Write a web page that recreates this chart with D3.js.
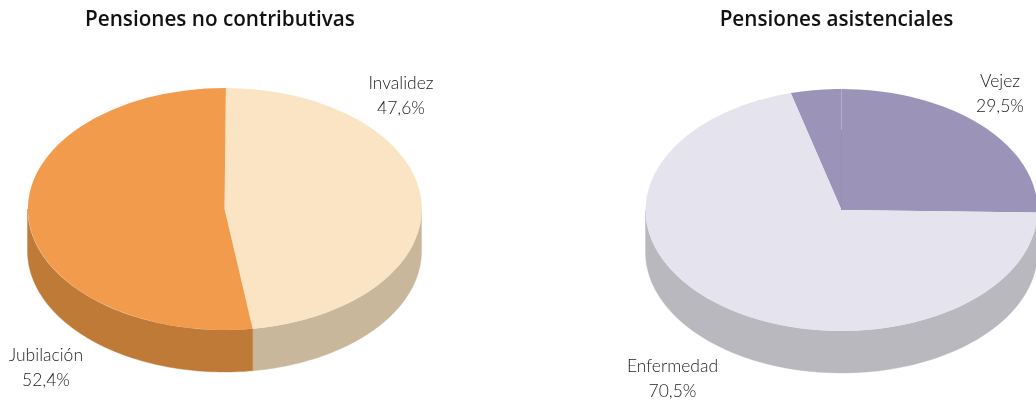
<!DOCTYPE html>
<html><head><meta charset="utf-8">
<script src="https://cdn.jsdelivr.net/npm/d3@7"></script>
<style>html,body{margin:0;padding:0;background:#fff;overflow:hidden}svg{display:block;will-change:transform}</style>
</head><body><div id="chart"></div>
<script>
const titles = ["Pensiones no contributivas", "Pensiones asistenciales"];
const leftCategories = ["Invalidez", "Jubilación"];
const leftValues = [47.6, 52.4];
const leftTops = ["#FBE4C3", "#F29B4C"];
const leftWalls = ["#C9B79B", "#C07A38"];
const rightCategories = ["Vejez", "Enfermedad"];
const rightValues = [29.5, 70.5];
const rightTops = ["#9C94B8", "#E5E4EE"];
const rightWalls = ["#9C94B8", "#B9B8BF"];

const W = 1036, H = 405;
const svg = d3.select("#chart").append("svg").attr("width", W).attr("height", H);
const TAU = Math.PI * 2;

const layouts = [
  {title: titles[0], cats: leftCategories, vals: leftValues, tops: leftTops, walls: leftWalls,
   cx: 224.5, cy: 209, rx: 197, ry: 121, depth: 42, start: 0.4 * Math.PI / 180, tx: 220,
   labels: [{x: 401, y: 89}, {x: 46, y: 361}]},
  {title: titles[1], cats: rightCategories, vals: rightValues, tops: rightTops, walls: rightWalls,
   cx: 841.5, cy: 210, rx: 196, ry: 121, depth: 42, start: -15 * Math.PI / 180, tx: 836.5,
   labels: [{x: 1000, y: 87}, {x: 672.5, y: 372}], seam: true}
];

layouts.forEach(L => {
  const pie = d3.pie().value(d => d).sort(null).startAngle(L.start).endAngle(L.start + TAU);
  const arcs = pie(L.vals);
  const sx = d3.scaleLinear().domain([-1, 1]).range([L.cx - L.rx, L.cx + L.rx]);
  const sy = d3.scaleLinear().domain([-1, 1]).range([L.cy - L.ry, L.cy + L.ry]);
  const g = svg.append("g");

  // side wall: the visible part of each slice (front half of the ellipse)
  arcs.forEach((a, i) => {
    const segs = [[a.startAngle, a.endAngle], [a.startAngle - TAU, a.endAngle - TAU]];
    segs.forEach(([s0, s1]) => {
      const lo = Math.max(s0, Math.PI / 2), hi = Math.min(s1, Math.PI * 1.5);
      if (hi <= lo) return;
      const angles = d3.range(0, 81).map(k => lo + (hi - lo) * k / 80);
      const lower = angles.map(t => [sx(Math.sin(t)), sy(-Math.cos(t)) + L.depth]);
      const upper = angles.slice().reverse().map(t => [sx(Math.sin(t)), sy(-Math.cos(t))]);
      g.append("path").attr("d", d3.line()(lower.concat(upper)) + "Z")
        .attr("fill", L.walls[i]).attr("stroke", L.walls[i]).attr("stroke-width", 0.4);
    });
  });

  // top face, drawn on a unit circle and scaled to the ellipse
  const arc = d3.arc().innerRadius(0).outerRadius(1);
  const top = g.append("g")
    .attr("transform", `translate(${L.cx},${L.cy}) scale(${L.rx},${L.ry})`);
  top.selectAll("path").data(arcs).join("path").attr("d", arc).attr("fill", (d, i) => L.tops[i]);

  if (L.seam) {
    g.append("line").attr("x1", L.cx).attr("x2", L.cx)
      .attr("y1", sy(-1)).attr("y2", L.cy - L.ry * 0.66)
      .attr("stroke", "#B5AECB").attr("stroke-width", 1);
    g.append("line").attr("x1", L.cx).attr("x2", L.cx)
      .attr("y1", L.cy - L.ry * 0.66).attr("y2", L.cy)
      .attr("stroke", "#9690B3").attr("stroke-width", 1);
  }

  svg.append("text").text(L.title).attr("x", L.tx).attr("y", 26)
    .attr("text-anchor", "middle")
    .attr("font-family", "'Open Sans',sans-serif").attr("font-weight", 600)
    .attr("font-size", 20.7).attr("fill", "#111");

  L.labels.forEach((p, i) => {
    const t = svg.append("text").attr("text-anchor", "middle")
      .attr("font-family", "Lato,sans-serif").attr("font-weight", 300)
      .attr("font-size", 17.5).attr("fill", "#222");
    t.append("tspan").attr("x", p.x).attr("y", p.y).text(L.cats[i]);
    t.append("tspan").attr("x", p.x).attr("y", p.y + 25)
      .text(String(L.vals[i]).replace(".", ",") + "%");
  });
});
</script></body></html>
